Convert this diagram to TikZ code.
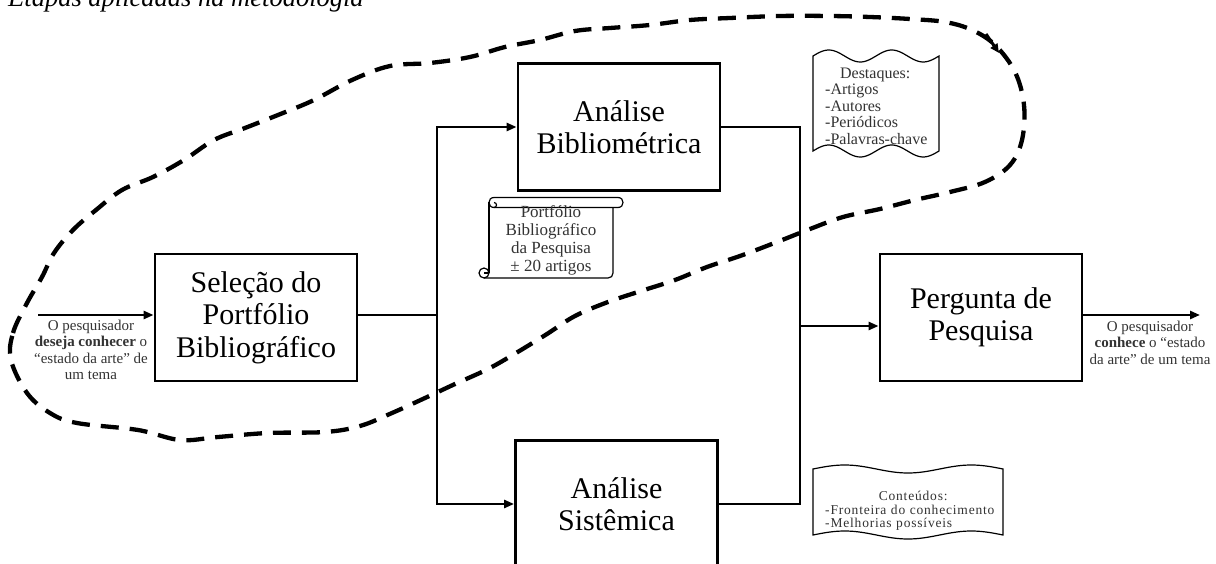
\documentclass[tikz,border=0pt]{standalone}
\usepackage{fontspec}
\setmainfont{Liberation Serif}
\usetikzlibrary{arrows.meta}
\begin{document}
\begin{tikzpicture}[x=1pt,y=-1pt,
  box/.style={draw, line width=2.8pt, minimum width=202pt, minimum height=127pt, inner sep=0pt, align=center, font=\fontsize{30}{32.5}\selectfont},
  conn/.style={line width=2.6pt},
  arr/.style={conn, -{Triangle[length=10pt,width=8pt]}},
  note/.style={align=center, inner sep=0pt, text=black!80, font=\fontsize{15}{16.5}\selectfont},
  dashloop/.style={line width=4.3pt, dash pattern=on 18pt off 11pt},
  shp/.style={draw, line width=1.2pt}
]
\useasboundingbox (0,0) rectangle (1216,564);
\fill[white] (0,0) rectangle (1216,564);

% title
\node[anchor=base west, inner sep=0pt, font=\fontsize{26.5}{30}\selectfont\itshape] (title) at (8,6.5) {Etapas aplicadas na metodologia};

% boxes
\node[box] (sel) at (256,317.5) {Seleção do\\Portfólio\\Bibliográfico};
\node[box] (bib) at (619,127) {Análise\\Bibliométrica};
\node[box] (sis) at (616.5,504) {Análise\\Sistêmica};
\node[box] (per) at (981,317.5) {Pergunta de\\Pesquisa};

% connectors
\coordinate (in0) at (38,315);
\coordinate (j1) at (437,315);
\coordinate (j2) at (800,326);
\coordinate (out0) at (1200,315);
\draw[arr] (in0) -- (in0 -| sel.west);
\draw[conn] (sel.east |- j1) -- (j1);
\draw[arr] (j1) |- (bib.west);
\draw[arr] (j1) |- (sis.west);
\draw[conn] (bib.east) -| (j2);
\draw[conn] (sis.east) -| (j2);
\draw[arr] (j2) -- (j2 -| per.west);
\draw[arr] (out0 -| per.east) -- (out0);

% side texts
\node[note] (intext) at (91,350) {O pesquisador\\\textbf{deseja conhecer} o\\“estado da arte” de\\um tema};
\node[note] (outtext) at (1150,342.5) {O pesquisador\\\textbf{conhece} o “estado\\da arte” de um tema};

% scroll
\draw[shp] (489,202.5) -- (489,273);
\draw[shp] (484,278) -- (608,278) .. controls (611,278) and (613,276) .. (613,273) -- (613,207.5);
\draw[shp] (484,273) circle[radius=5];
\draw[shp] (484,273) -- (489,273);
\draw[shp] (494,197.5) -- (618,197.5) .. controls (624.7,197.5) and (624.7,207.5) .. (618,207.5) -- (494,207.5);
\draw[shp] (494,197.5) .. controls (487.3,197.5) and (487.3,207.5) .. (494,207.5);
\draw[shp] (494,207.5) .. controls (497.3,207.5) and (497.3,202.5) .. (494,202.5);
\node[note, font=\fontsize{17}{18}\selectfont] (scrtext) at (551,240) {Portfólio\\Bibliográfico\\da Pesquisa\\± 20 artigos};

% Destaques document
\draw[shp] plot[domain=813:939,samples=60] (\x,{56-6*sin(5.714*(\x-813))}) -- plot[domain=939:813,samples=60] (\x,{151-6*sin(5.714*(\x-813))}) -- cycle;
\node[anchor=west, inner sep=0pt, text width=106pt, align=left, text=black!80, font=\fontsize{16}{16.5}\selectfont] (desttext) at (825,106) {\makebox[100pt][c]{Destaques:}\\-Artigos\\-Autores\\-Periódicos\\-Palavras-chave};

% Conteudos document
\draw[shp] plot[domain=813:1003,samples=60] (\x,{469-4*sin(2.842*(\x-813))}) -- plot[domain=1003:813,samples=60] (\x,{535-4*sin(2.842*(\x-813))}) -- cycle;
\node[anchor=west, inner sep=0pt, text width=186pt, align=left, text=black!80, font=\fontsize{13.5}{13.5}\selectfont\addfontfeature{LetterSpace=6}] (conttext) at (825,511) {\makebox[176pt][c]{Conteúdos:}\\-Fronteira do conhecimento\\-Melhorias possíveis};

% dashed loop
\draw[dashloop] plot[smooth cycle, tension=0.6] coordinates {
(11,360) (13,333) (27,303) (42,277) (54,253) (73,230) (96,210) (122,190) (153,177) (184,160) (214,140) (245,128) (283,113) (314,100) (352,80) (390,66) (430,63) (470,57) (505,47) (540,40) (575,31) (610,28) (650,25) (690,20) (730,18) (780,16) (830,16) (870,17) (910,19) (945,22) (972,30) (995,45) (1015,72) (1024,105) (1022,140) (1010,165) (985,182) (950,192) (915,200) (880,209) (843,217) (810,229) (777,242) (740,256) (707,267) (675,280) (641,291) (608,302) (575,316) (547,334) (516,353) (488,369) (455,384) (425,398) (392,413) (360,426) (325,432) (268,433) (218,437) (180,440) (138,430) (77,423) (50,413) (27,393)};
\coordinate (lp1) at (986,34);
\coordinate (lp2) at (999,53);
\draw[line width=3pt, -{Triangle[length=9pt,width=8pt]}] (lp1) -- (lp2);
\end{tikzpicture}
\end{document}
